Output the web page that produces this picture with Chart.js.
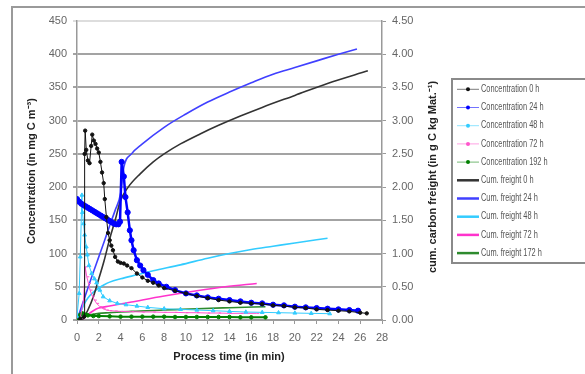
<!DOCTYPE html>
<html>
<head>
<meta charset="utf-8">
<script src="https://cdn.jsdelivr.net/npm/chart.js@4/dist/chart.umd.min.js"></script>
<style>
	html, body { margin: 0; padding: 0; background: #fff; overflow: hidden; }
	#wrap { position: relative; width: 585px; height: 374px; }
	#frame { position: absolute; left: 11px; top: 6px; width: 700px; height: 500px; border: 2px solid #9a9a9a; pointer-events: none; }
</style>
</head>
<body>
<div id="wrap">
	<canvas id="chart" width="585" height="374"></canvas>
	<div id="frame"></div>
</div>
<script>
// concentration series (left axis, mg C m-3)
const conc0hT = [0.3,0.65,0.7,0.75,0.85,1.0,1.15,1.3,1.4,1.55,1.7,1.85,2.0,2.15,2.3,2.45,2.55,2.7,2.85,3.0,3.15,3.3,3.5,3.75,4.0,4.3,4.6,5.0,5.5,6,6.5,7,7.5,8,9,10,11,12,13,14,15,16,17,18,19,20,21,22,23,24,25,26,26.6];
const conc0hV = [2,5,250,285,256,240,236,262,279,270,265,258,252,238,222,206,182,155,131,120,112,105,95,88,86,85,82,78,70,64,59,56,52,48,44,40,36,33,30,28,26,25,24,22,21,19,18,16,15,14,13,11,10];

const conc24hT = [0,0.2,0.4,0.6,0.8,1.0,1.2,1.4,1.6,1.8,2.0,2.2,2.4,2.6,2.8,3.0,3.2,3.4,3.6,3.8,3.95,4.1,4.3,4.45,4.65,4.85,5.0,5.2,5.5,5.8,6.1,6.5,7,7.5,8.2,9,10,11,12,13,14,15,16,17,18,19,20,21,22,23,24,25,25.8];
const conc24hV = [182,178,175,173,171,169,167,165,163,161,159,157,155,153,151,149,147,145,144,144,148,238,216,185,162,135,120,105,90,82,75,68,60,55,50,45,40,37,34,32,30,28,26,25,23,22,20,19,18,17,16,15,14];

const conc48hT = [0,0.2,0.3,0.45,0.5,0.6,0.7,0.85,0.95,1.1,1.35,1.6,1.8,2.1,2.4,3,3.7,4.5,5.5,6.5,8,9.5,11,12.5,14,15.5,17,18.5,20,21.5,23.2];
const conc48hV = [5,40,95,188,162,145,128,110,98,82,70,62,56,45,35,29,25,23,21,19,17,16,15,14,13,12,11.5,11,10.5,10,9.5];

const conc72hT = [0.3,0.6,0.75,0.9,1.05,1.2,1.4,1.6,1.8,2.1,2.4,2.7,3,3.5,4,5,6,7,8,9,10,11,12,13,14,15,16.5];
const conc72hV = [3,30,80,65,55,45,36,30,25,20,17,15,14,13.5,13,12.5,12,12,11.5,11.5,11,11,10.5,10.5,10,10,10];

const conc192hT = [0,0.3,0.5,0.8,1,1.5,2,3,4,5,6,7,8,9,10,11,12,13,14,15,16,17.3];
const conc192hV = [2,8,10,8,7,6,6,5.5,5,5,5,5,5,4.5,4.5,4.5,4.5,4.5,4.5,4,4,4];

// cumulated carbon freight (right axis, g C kg Mat.-1)
const cum0hT = [0.5,1,1.5,2,2.5,3,3.5,4,4.7,5.8,7,8,9.5,11.3,13,15,17,20,23,26.7];
const cum0hV = [0,0.15,0.35,0.62,0.9,1.22,1.5,1.8,2.0,2.2,2.38,2.5,2.65,2.8,2.93,3.07,3.2,3.38,3.56,3.75];

const cum24hT = [0,0.5,1,1.5,2,2.5,3,3.5,4,4.3,5,6,8,10,12,14,16,18,20,22,24,25.7];
const cum24hV = [0,0.24,0.48,0.72,0.95,1.18,1.42,1.65,1.9,2.3,2.5,2.65,2.9,3.1,3.28,3.43,3.57,3.7,3.8,3.9,4.0,4.08];

const cum48hT = [0,0.3,0.6,1,1.5,2,2.5,3,4,5.5,7,9.5,12,14,16,18,20,23];
const cum48hV = [0,0.1,0.22,0.33,0.42,0.48,0.53,0.57,0.62,0.68,0.74,0.83,0.93,1.0,1.06,1.11,1.16,1.23];

const cum72hT = [0.5,1,1.5,2,3,5,8,11,13.6,16.5];
const cum72hV = [0,0.08,0.14,0.18,0.21,0.27,0.36,0.44,0.5,0.55];

const cum172hT = [0,0.5,1,2,3,5,8,11,14,17.3];
const cum172hV = [0,0.04,0.07,0.1,0.11,0.13,0.15,0.17,0.185,0.2];

const leftTicks = [0,50,100,150,200,250,300,350,400,450];
const rightTicks = [0,0.5,1,1.5,2,2.5,3,3.5,4,4.5];

function pts(t, v) {
	return t.map((x, i) => ({x: x, y: v[i]}));
}

function concSet(label, t, v, color, width, radius, style) {
	return {
		label: label, data: pts(t, v), yAxisID: 'y', showLine: true,
		borderColor: color, backgroundColor: color, borderWidth: width,
		pointRadius: radius, pointStyle: style, pointBorderWidth: 1,
		kind: 'conc'
	};
}

function cumSet(label, t, v, color) {
	return {
		label: label, data: pts(t, v), yAxisID: 'y2', showLine: true,
		borderColor: color, backgroundColor: color, borderWidth: 1.6,
		pointRadius: 0, cubicInterpolationMode: 'monotone',
		kind: 'cum'
	};
}

const datasets = [
	concSet('Concentration 0 h', conc0hT, conc0hV, '#111', 1, 1.7, 'circle'),
	concSet('Concentration 24 h', conc24hT, conc24hV, '#0000ff', 2.5, 2.6, 'circle'),
	concSet('Concentration 48 h', conc48hT, conc48hV, '#33ccff', 1, 2.2, 'triangle'),
	concSet('Concentration 72 h', conc72hT, conc72hV, '#ff55cc', 1, 2.5, 'dash'),
	concSet('Concentration 192 h', conc192hT, conc192hV, '#008000', 2, 1.8, 'circle'),
	cumSet('Cum. freight 0 h', cum0hT, cum0hV, '#333333'),
	cumSet('Cum. freight 24 h', cum24hT, cum24hV, '#4040ff'),
	cumSet('Cum. freight 48 h', cum48hT, cum48hV, '#33ccff'),
	cumSet('Cum. freight 72 h', cum72hT, cum72hV, '#ff33cc'),
	cumSet('Cum. freight 172 h', cum172hT, cum172hV, '#2e8b2e')
];

const decorations = {
	id: 'decorations',
	afterDraw(chart) {
		const ctx = chart.ctx;
		ctx.save();
		ctx.fillStyle = '#222';
		ctx.font = 'bold 11px Arial, "Liberation Sans", sans-serif';
		ctx.textAlign = 'center';
		ctx.textBaseline = 'middle';
		ctx.fillText('Process time (in min)', 229, 357);

		ctx.save();
		ctx.translate(32, 171);
		ctx.rotate(-Math.PI / 2);
		ctx.fillText('Concentration (in mg C m⁻³)', 0, 0);
		ctx.restore();

		ctx.save();
		ctx.translate(433, 177);
		ctx.rotate(-Math.PI / 2);
		ctx.fillText('cum. carbon freight (in g C kg Mat.⁻¹)', 0, 0);
		ctx.restore();

		// legend
		ctx.strokeStyle = '#8a8a8a';
		ctx.lineWidth = 2;
		ctx.strokeRect(452, 79, 200, 184);
		const rowTop = 89.3, rowStep = 18.2;
		chart.data.datasets.forEach((ds, i) => {
			const y = rowTop + i * rowStep;
			ctx.strokeStyle = ds.borderColor;
			ctx.globalAlpha = ds.kind === 'conc' ? 0.55 : 1;
			ctx.lineWidth = ds.kind === 'conc' ? 1 : 2.5;
			ctx.beginPath();
			ctx.moveTo(457, y);
			ctx.lineTo(479, y);
			ctx.stroke();
			ctx.globalAlpha = 1;
			if (ds.kind === 'conc') {
				ctx.fillStyle = ds.borderColor;
				ctx.beginPath();
				ctx.arc(468, y, 2, 0, Math.PI * 2);
				ctx.fill();
			}
			ctx.save();
			ctx.translate(481, y);
			ctx.scale(0.74, 1);
			ctx.fillStyle = '#555';
			ctx.font = '10px Arial, "Liberation Sans", sans-serif';
			ctx.textAlign = 'left';
			ctx.fillText(ds.label, 0, 0);
			ctx.restore();
		});
		ctx.restore();
	}
};

new Chart(document.getElementById('chart'), {
	type: 'scatter',
	data: { datasets: datasets },
	options: {
		responsive: false,
		animation: false,
		devicePixelRatio: 1,
		layout: { padding: { top: 21, left: 0, right: 0, bottom: 0 } },
		plugins: { legend: { display: false }, tooltip: { enabled: false } },
		scales: {
			x: {
				type: 'linear', min: 0, max: 28,
				afterFit(s) { s.height = 374 - 320; },
				ticks: { stepSize: 2, color: '#666', padding: 7, font: { family: 'Arial', size: 11 } },
				grid: { drawOnChartArea: false, tickLength: 4, color: '#999' },
				border: { color: '#999', width: 1.5 }
			},
			y: {
				position: 'left', min: 0, max: 450,
				afterFit(s) { s.width = 77; },
				afterBuildTicks(s) { s.ticks = leftTicks.map(v => ({value: v})); },
				ticks: { color: '#666', padding: 6, font: { family: 'Arial', size: 11 } },
				grid: {
					color: c => (c.tick && c.tick.value === 450) ? '#dddddd' : '#a3a3a3',
					lineWidth: 2, tickLength: 4
				},
				border: { color: '#999', width: 1.5 }
			},
			y2: {
				position: 'right', min: 0, max: 4.5,
				afterFit(s) { s.width = 585 - 382; },
				afterBuildTicks(s) { s.ticks = rightTicks.map(v => ({value: v})); },
				ticks: { color: '#666', padding: 6, font: { family: 'Arial', size: 11 }, callback: v => v.toFixed(2) },
				grid: { drawOnChartArea: false, tickLength: 4, color: '#999' },
				border: { color: '#999', width: 1.5 }
			}
		}
	},
	plugins: [decorations]
});
</script>
</body>
</html>
